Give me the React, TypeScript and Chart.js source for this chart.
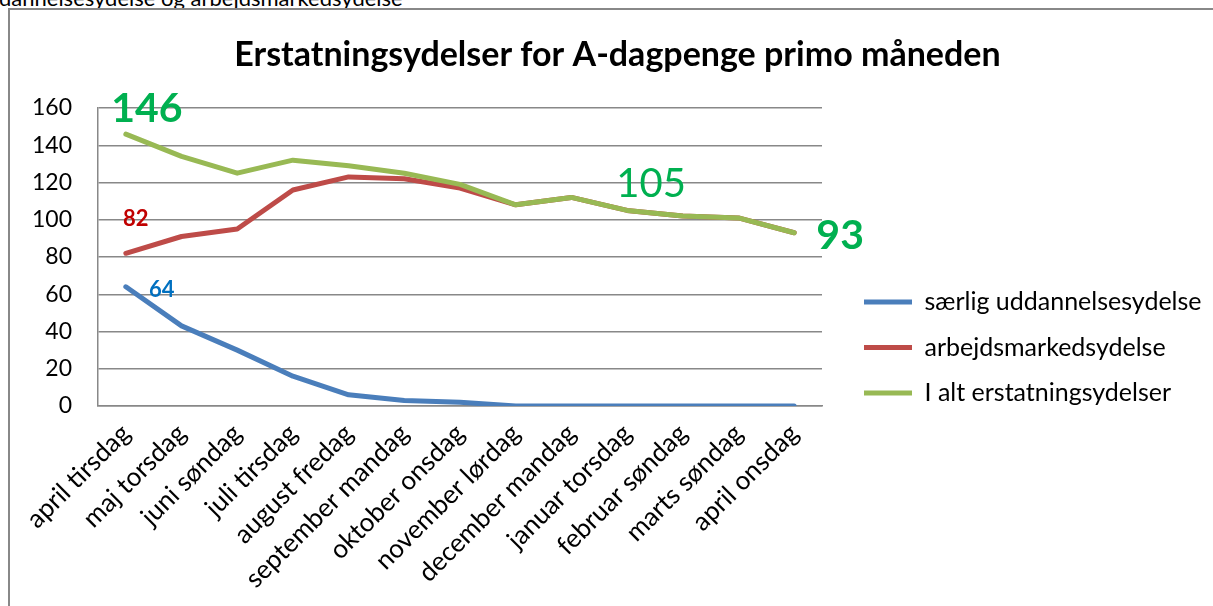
import React, { useEffect, useRef } from 'react';
import { Chart, registerables } from 'chart.js';

Chart.register(...registerables);

// ---- data ----
const categories = [
  'april tirsdag',
  'maj torsdag',
  'juni søndag',
  'juli tirsdag',
  'august fredag',
  'september mandag',
  'oktober onsdag',
  'november lørdag',
  'december mandag',
  'januar torsdag',
  'februar søndag',
  'marts søndag',
  'april onsdag',
];
const saerligUddannelsesydelse = [64, 43, 30, 16, 6, 3, 2, 0, 0, 0, 0, 0, 0];
const arbejdsmarkedsydelse = [82, 91, 95, 116, 123, 122, 117, 108, 112, 105, 102, 101, 93];
const iAltErstatningsydelser = [146, 134, 125, 132, 129, 125, 119, 108, 112, 105, 102, 101, 93];
const yTickValues = [0, 20, 40, 60, 80, 100, 120, 140, 160];
const seriesNames = ['særlig uddannelsesydelse', 'arbejdsmarkedsydelse', 'I alt erstatningsydelser'];
const titleText = 'Erstatningsydelser for A-dagpenge primo måneden';
const headerText = 'dannelsesydelse og arbejdsmarkedsydelse';

// value labels: which dataset / point, plus styling
const valueLabels = [
  { ds: 2, i: 0, color: '#00B050', size: 41, bold: true, dx: 21, dy: -12 },
  { ds: 1, i: 0, color: '#C00000', size: 22, bold: true, dx: 10, dy: -27 },
  { ds: 0, i: 0, color: '#0070C0', size: 22, bold: true, dx: 36, dy: 10 },
  { ds: 2, i: 9, color: '#00B050', size: 40, bold: false, dx: 24, dy: -13 },
  { ds: 2, i: 12, color: '#00B050', size: 41, bold: true, dx: 46, dy: 16 },
];

const FONT = 'Lato';
const GRID = '#888888';

// layout targets (canvas coords; canvas origin at page 11,11)
const AREA_LEFT = 87;
const AREA_RIGHT = 811;
const AREA_TOP = 97;
const AREA_BOTTOM = 395;
const TITLE_CENTER_X = 606.5;
const LEGEND_CENTER_Y = 336.5;
const LEGEND_LINE_X = 853;
const LEGEND_FONT = 25;
const LEGEND_ROW = 45.5;
const LEGEND_BOX = 48;
const TITLE_SIZE = 34;
const X_FONT = 26;
const CANVAS_W = 1260;

const valueLabelPlugin = {
  id: 'valueLabels',
  afterDatasetsDraw(chart: any) {
    const ctx = chart.ctx;
    ctx.save();
    for (const l of valueLabels) {
      const meta = chart.getDatasetMeta(l.ds);
      const pt = meta.data[l.i];
      if (!pt) continue;
      const v = chart.data.datasets[l.ds].data[l.i];
      ctx.font = `${l.bold ? 'bold ' : ''}${l.size}px ${FONT}`;
      ctx.fillStyle = l.color;
      ctx.textAlign = 'center';
      ctx.textBaseline = 'alphabetic';
      ctx.fillText(String(v), pt.x + l.dx, pt.y + l.dy);
    }
    ctx.restore();
  },
};

export default function App() {
  const ref = useRef<HTMLCanvasElement | null>(null);

  useEffect(() => {
    if (!ref.current) return;
    // measure legend text to place boxes precisely
    const m = document.createElement('canvas').getContext('2d')!;
    m.font = `${LEGEND_FONT}px ${FONT}`;
    const tw = Math.max(...seriesNames.map((s) => m.measureText(s).width));
    const legendPad = LEGEND_ROW - LEGEND_FONT;
    const legendW = legendPad + LEGEND_BOX + LEGEND_FONT / 2 + tw + 10;
    const legendLeft = LEGEND_LINE_X - legendPad;
    const spacerW = legendLeft - AREA_RIGHT;
    const legendRight = legendLeft + legendW;
    let padL = 2 * TITLE_CENTER_X - legendRight;
    if (padL < 0) padL = 0;
    const padR = CANVAS_W - legendRight;
    const H = 2 * LEGEND_CENTER_Y;
    const xAxisH = H - AREA_BOTTOM;
    const titleLine = TITLE_SIZE * 1.2;
    const titleTop = 44 - titleLine / 2;
    const titleBottom = AREA_TOP - titleTop - titleLine;

    const chart = new Chart(ref.current, {
      type: 'line',
      data: {
        labels: categories,
        datasets: [
          {
            label: seriesNames[0],
            data: saerligUddannelsesydelse,
            borderColor: '#4A7EBB',
            backgroundColor: '#4A7EBB',
            order: 2,
          },
          {
            label: seriesNames[1],
            data: arbejdsmarkedsydelse,
            borderColor: '#BE4B48',
            backgroundColor: '#BE4B48',
            order: 1,
          },
          {
            label: seriesNames[2],
            data: iAltErstatningsydelser,
            borderColor: '#98B954',
            backgroundColor: '#98B954',
            order: 0,
          },
        ].map((d) => ({
          ...d,
          borderWidth: 5,
          pointRadius: 0,
          pointHoverRadius: 0,
          tension: 0,
          borderCapStyle: 'round' as const,
          borderJoinStyle: 'round' as const,
        })),
      },
      options: {
        responsive: false,
        animation: false,
        devicePixelRatio: 1,
        layout: { padding: { left: padL, right: padR, top: 0, bottom: 0 } },
        plugins: {
          tooltip: { enabled: false },
          title: {
            display: true,
            text: titleText,
            color: '#000',
            font: { family: FONT, size: TITLE_SIZE, weight: 'bold' },
            padding: { top: titleTop, bottom: titleBottom },
          },
          legend: {
            display: true,
            position: 'right',
            align: 'center',
            fullSize: true,
            maxWidth: legendW,
            labels: {
              usePointStyle: true,
              pointStyle: 'line',
              pointStyleWidth: LEGEND_BOX,
              padding: legendPad,
              color: '#000',
              font: { family: FONT, size: LEGEND_FONT },
              sort: (a: any, b: any) => a.datasetIndex - b.datasetIndex,
            },
          },
        },
        scales: {
          x: {
            type: 'category',
            offset: true,
            grid: { display: false, drawTicks: false },
            border: { display: true, color: GRID, width: 1.5 },
            ticks: {
              color: '#000',
              font: { family: FONT, size: X_FONT },
              minRotation: 45,
              maxRotation: 45,
              autoSkip: false,
              padding: 12,
            },
            afterFit: (s: any) => {
              s.height = xAxisH;
              s.paddingLeft = 0;
              s.paddingRight = 0;
            },
          },
          y: {
            type: 'linear',
            min: 0,
            max: 160,
            grid: { display: true, color: GRID, lineWidth: 1.5, drawTicks: false },
            border: { display: true, color: GRID, width: 1.5 },
            ticks: {
              color: '#000',
              font: { family: FONT, size: 23 },
              padding: 26,
            },
            afterBuildTicks: (s: any) => {
              s.ticks = yTickValues.map((v) => ({ value: v }));
            },
            afterFit: (s: any) => {
              s.width = AREA_LEFT - padL;
            },
          },
          spacer: {
            type: 'linear',
            position: 'right',
            display: true,
            grid: { display: false, drawTicks: false },
            border: { display: false },
            ticks: { display: false },
            afterFit: (s: any) => {
              s.width = spacerW;
            },
          },
        },
      },
      plugins: [valueLabelPlugin],
    } as any);
    return () => chart.destroy();
  }, []);

  return (
    <div
      style={{
        position: 'fixed',
        left: 0,
        top: 0,
        width: 1213,
        height: 606,
        overflow: 'hidden',
        background: '#fff',
      }}
    >
      <div
        style={{
          position: 'absolute',
          left: -1,
          top: -13,
          fontFamily: FONT,
          fontSize: 22,
          lineHeight: '22px',
          whiteSpace: 'nowrap',
          color: '#000',
        }}
      >
        {headerText}
      </div>
      <div
        style={{
          position: 'absolute',
          left: 8,
          top: 8,
          width: 1400,
          height: 800,
          border: '2px solid #888',
          boxSizing: 'border-box',
        }}
      />
      <canvas
        ref={ref}
        width={CANVAS_W}
        height={2 * LEGEND_CENTER_Y}
        style={{ position: 'absolute', left: 11, top: 11, width: CANVAS_W, height: 2 * LEGEND_CENTER_Y }}
      />
    </div>
  );
}
